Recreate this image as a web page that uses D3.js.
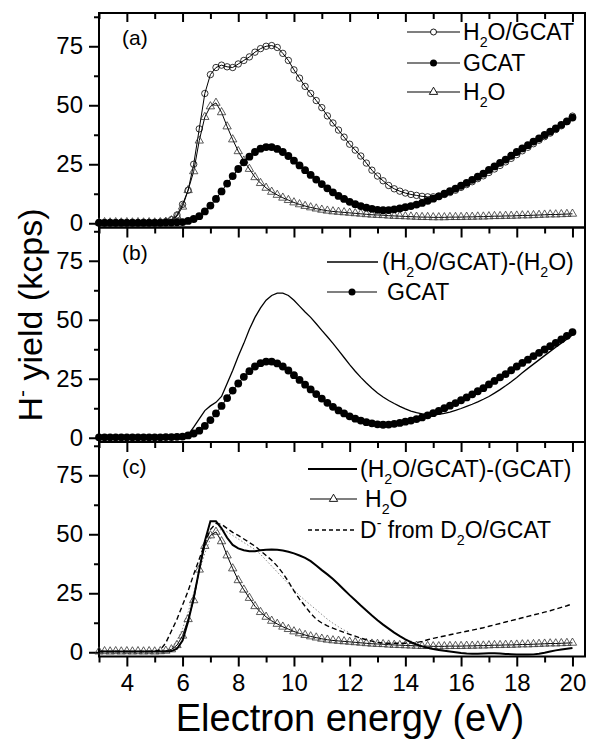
<!DOCTYPE html>
<html>
<head>
<meta charset="utf-8">
<script src="https://cdn.jsdelivr.net/npm/d3@7/dist/d3.min.js"></script>
<style>
  body { margin: 0; background: #fff; }
  svg { display: block; }
  text { font-family: "Liberation Sans", Arial, sans-serif; fill: #000; }
</style>
</head>
<body>
<svg width="590" height="741"></svg>
<script>
// electron energy grid (eV)
const energy = [
  3.0, 3.2, 3.4, 3.6, 3.8, 4.0, 4.2, 4.4, 4.6, 4.8,
  5.0, 5.2, 5.4, 5.6, 5.8, 6.0, 6.2, 6.4, 6.6, 6.8,
  7.0, 7.2, 7.4, 7.6, 7.8, 8.0, 8.2, 8.4, 8.6, 8.8,
  9.0, 9.2, 9.4, 9.6, 9.8, 10.0, 10.2, 10.4, 10.6, 10.8,
  11.0, 11.2, 11.4, 11.6, 11.8, 12.0, 12.2, 12.4, 12.6, 12.8,
  13.0, 13.2, 13.4, 13.6, 13.8, 14.0, 14.2, 14.4, 14.6, 14.8,
  15.0, 15.2, 15.4, 15.6, 15.8, 16.0, 16.2, 16.4, 16.6, 16.8,
  17.0, 17.2, 17.4, 17.6, 17.8, 18.0, 18.2, 18.4, 18.6, 18.8,
  19.0, 19.2, 19.4, 19.6, 19.8, 20.0
];

// H- yield from H2O/GCAT (kcps)
const mixYield = [
  0.4, 0.3, 0.4, 0.3, 0.4, 0.3, 0.4, 0.3, 0.4, 0.4,
  0.4, 0.5, 0.7, 1.5, 3.5, 8, 14, 25, 40, 55,
  63, 66, 67, 66.3, 66, 67.5, 69, 70.5, 72.5, 74,
  75, 75.3, 74.5, 72, 69, 65, 61.5, 58, 55, 52,
  49, 45.5, 42.5, 39.5, 36.5, 33.5, 31, 28.5, 25.5, 22.5,
  20, 18, 16, 14.6, 13.6, 12.8, 12.2, 11.8, 11.4, 11.2,
  11.2, 11.5, 12.2, 13.0, 14.0, 15.2, 16.4, 17.6, 18.9, 20.1,
  21.5, 23.0, 24.5, 26.0, 27.5, 29.1, 30.7, 32.2, 33.7, 35.2,
  36.7, 38.2, 39.7, 41.3, 43.1, 45.4
];

// H- yield from GCAT
const gcatYield = [
  0.2, 0.2, 0.2, 0.2, 0.2, 0.2, 0.2, 0.2, 0.2, 0.2,
  0.2, 0.2, 0.3, 0.3, 0.4, 0.5, 1.0, 1.8, 3.0, 5.0,
  7.5, 10.3, 13.5, 16.8, 20.0, 23.0, 25.8, 28.2, 30.2, 31.6,
  32.3, 32.3, 31.5, 30.2, 28.5, 26.5, 24.5, 22.5, 20.5, 18.5,
  16.6, 14.8, 13.1, 11.6, 10.3, 9.1, 8.1, 7.3, 6.6, 6.1,
  5.7, 5.5, 5.6, 5.9, 6.3, 6.8, 7.3, 7.9, 8.6, 9.5,
  10.4, 11.4, 12.5, 13.6, 14.7, 15.9, 17.1, 18.4, 19.7, 21.0,
  22.6, 24.1, 25.6, 27.0, 28.6, 30.2, 31.7, 33.1, 34.6, 36.0,
  37.4, 38.8, 40.2, 41.7, 43.2, 44.8
];

// H- yield from H2O
const waterYield = [
  0.3, 0.4, 0.3, 0.4, 0.3, 0.4, 0.3, 0.4, 0.3, 0.4,
  0.3, 0.4, 0.6, 1.2, 3, 7, 14, 22, 35, 45,
  49.5, 51, 47, 41, 35.5, 30.5, 26.5, 23, 19.5, 17,
  15, 13.3, 12, 10.8, 9.8, 8.8, 8, 7.3, 6.7, 6.2,
  5.7, 5.3, 5.0, 4.8, 4.6, 4.4, 4.2, 4.0, 3.8, 3.6,
  3.5, 3.4, 3.2, 3.1, 3.0, 2.9, 2.8, 2.7, 2.6, 2.6,
  2.5, 2.5, 2.5, 2.6, 2.6, 2.6, 2.7, 2.7, 2.8, 2.8,
  2.9, 3.0, 3.0, 3.1, 3.1, 3.2, 3.3, 3.3, 3.4, 3.5,
  3.6, 3.7, 3.7, 3.8, 3.9, 4.0
];

// (H2O/GCAT)-(H2O)
const mixMinusWater = [
  0.1, 0.1, 0.1, 0.1, 0.1, 0.1, 0.1, 0.1, 0.1, 0.1,
  0.1, 0.1, 0.1, 0.1, 0.2, 0.3, 1.2, 4.5, 8, 11.5,
  13.5, 15, 17.5, 23, 28.5, 34.5, 40, 46, 51, 55,
  58.3, 60.3, 61.3, 61.3, 60.3, 58.3, 55.8, 53.3, 51, 48.3,
  45.5, 42.8, 40, 37, 34, 31, 28.2, 25.6, 23.2, 21,
  19, 17.3, 15.8, 14.5, 13.3, 12.2, 11.3, 10.6, 10.1, 9.8,
  9.7, 9.9, 10.3, 10.9, 11.6, 12.4, 13.3, 14.2, 15.2, 16.3,
  17.5, 18.9, 20.4, 22, 23.7, 25.5, 27.5, 29.4, 31.2, 33,
  34.8, 36.6, 38.4, 40.1, 41.8, 43.6
];

// (H2O/GCAT)-(GCAT)
const mixMinusGcat = [
  0.3, 0.3, 0.3, 0.3, 0.3, 0.3, 0.3, 0.3, 0.3, 0.3,
  0.3, 0.3, 0.3, 0.5, 1.5, 5, 13, 23, 35, 47,
  55.5, 55.5, 52.5, 48.5, 45.5, 44, 43.2, 42.8, 42.8, 43.2,
  43.4, 43.5, 43.4, 43.1, 42.6, 41.9, 41, 40, 38.6, 36.8,
  34.8, 33, 31, 28.8, 26.5, 24.2, 22, 19.8, 17.7, 15.6,
  13.6, 11.7, 10, 8.3, 6.8, 5.5, 4.3, 3.3, 2.5, 1.9,
  1.4, 1, 0.6, 0.3, 0, -0.3, -0.5, -0.6, -0.6, -0.5,
  -0.4, -0.4, -0.5, -0.7, -0.8, -0.9, -1, -1, -0.9, -0.6,
  -0.2, 0.3, 0.8, 1.2, 1.5, 1.8
];

// D- from D2O/GCAT
const deutYield = [
  0.3, 0.3, 0.3, 0.3, 0.3, 0.3, 0.3, 0.3, 0.3, 0.3,
  0.4, 1, 4, 9, 14, 20, 26, 33, 39.5, 46,
  52, 54.6, 54.2, 52.5, 50.8, 49.5, 48, 46.5, 45, 43,
  41, 39, 36.5, 33.5, 30, 26, 22.5, 19.5, 16.5, 14,
  12.4, 11.2, 10.2, 9.3, 8.4, 7.6, 6.8, 6.0, 5.3, 4.7,
  4.2, 3.9, 3.8, 3.8, 3.8, 3.8, 3.9, 4.1, 4.6, 5.3,
  5.9, 6.4, 6.9, 7.4, 7.9, 8.4, 8.9, 9.4, 9.9, 10.4,
  11, 11.6, 12.2, 12.8, 13.4, 14, 14.6, 15.2, 15.8, 16.4,
  17, 17.6, 18.3, 19, 19.7, 20.5
];

// thin grey dotted guide curve in panel (c)
const guideYield = [
  null, null, null, null, null, null, null, null, null, null,
  null, null, 0.5, 2, 5, 10, 17, 25, 34, 42,
  48, 51.5, 52, 51, 49.5, 48, 46.5, 45, 43.5, 41.5,
  39, 36.5, 34, 31.5, 29, 26.5, 24, 22, 20, 18,
  16, 14, 12.3, 10.8, 9.4, 8.2, null, null, null, null,
  null, null, null, null, null, null, null, null, null, null,
  null, null, null, null, null, null, null, null, null, null,
  null, null, null, null, null, null, null, null, null, null,
  null, null, null, null, null, null
];

const xMajorTicks = [4, 6, 8, 10, 12, 14, 16, 18, 20];
const xMinorTicks = [3, 5, 7, 9, 11, 13, 15, 17, 19];
const yMajorTicks = [0, 25, 50, 75];
const yMinorTicks = [12.5, 37.5, 62.5, 87.5];

const svg = d3.select("svg");
const left = 99, right = 585;
const panelH = 214.5;
const panelTops = [13, 227.5, 442];

const x = d3.scaleLinear().domain([3, 20.45]).range([left, right]);

function makeY(top) {
  return d3.scaleLinear().domain([-1.8, 89.1]).range([top + panelH, top]);
}

function drawLine(g, y, values, width, dash, color) {
  const line = d3.line()
    .defined(d => d != null)
    .x((d, i) => x(energy[i]))
    .y(d => y(d));
  g.append("path")
    .attr("d", line(values))
    .attr("fill", "none")
    .attr("stroke", color || "#000")
    .attr("stroke-width", width)
    .attr("stroke-dasharray", dash || null);
}

function drawMarkers(g, y, values, kind) {
  const pts = values.map((v, i) => [energy[i], v]).filter(d => d[1] != null);
  if (kind === "open") {
    g.selectAll(null).data(pts).enter().append("circle")
      .attr("cx", d => x(d[0])).attr("cy", d => y(d[1])).attr("r", 3.2)
      .attr("fill", "none").attr("stroke", "#000").attr("stroke-width", 0.8);
  } else if (kind === "filled") {
    g.selectAll(null).data(pts).enter().append("circle")
      .attr("cx", d => x(d[0])).attr("cy", d => y(d[1])).attr("r", 3.9)
      .attr("fill", "#000");
  } else {
    g.selectAll(null).data(pts).enter().append("path")
      .attr("d", d3.symbol(d3.symbolTriangle, 30))
      .attr("transform", d => `translate(${x(d[0])},${y(d[1])})`)
      .attr("fill", "none").attr("stroke", "#333").attr("stroke-width", 0.8);
  }
}

function legendMarker(g, x1, x2, yy, kind, lineW, dash) {
  g.append("line").attr("x1", x1).attr("x2", x2).attr("y1", yy).attr("y2", yy)
    .attr("stroke", "#000").attr("stroke-width", lineW || 1.2)
    .attr("stroke-dasharray", dash || null);
  const cx = (x1 + x2) / 2;
  if (kind === "open") {
    g.append("circle").attr("cx", cx).attr("cy", yy).attr("r", 3)
      .attr("fill", "#fff").attr("stroke", "#000").attr("stroke-width", 0.9);
  } else if (kind === "filled") {
    g.append("circle").attr("cx", cx).attr("cy", yy).attr("r", 3.5).attr("fill", "#000");
  } else if (kind === "tri") {
    g.append("path").attr("d", d3.symbol(d3.symbolTriangle, 30))
      .attr("transform", `translate(${cx},${yy})`)
      .attr("fill", "#fff").attr("stroke", "#000").attr("stroke-width", 0.9);
  }
}

// text with chemical subscripts: parts = [[str, "sub"|"sup"|null], ...]
function richText(g, tx, ty, parts, size) {
  const t = g.append("text").attr("x", tx).attr("y", ty).attr("font-size", size);
  let shift = 0;
  parts.forEach(([s, mode]) => {
    const sp = t.append("tspan").text(s);
    let target = 0;
    if (mode === "sub") { sp.attr("font-size", size * 0.62); target = size * 0.3; }
    if (mode === "sup") { sp.attr("font-size", size * 0.62); target = -size * 0.42; }
    sp.attr("dy", target - shift);
    shift = target;
  });
  return t;
}

function drawPanel(idx, label) {
  const top = panelTops[idx];
  const y = makeY(top);
  const g = svg.append("g");

  // ticks
  const bottom = top + panelH;
  const xMaj = d3.axisBottom(x).tickValues(xMajorTicks).tickSize(10).tickPadding(7)
    .tickFormat(idx === 2 ? d3.format("d") : "");
  const xMin = d3.axisBottom(x).tickValues(xMinorTicks).tickSize(6).tickFormat("");
  [xMaj, xMin].forEach(ax => {
    const a = g.append("g").attr("transform", `translate(0,${bottom})`).call(ax);
    a.select(".domain").remove();
    a.selectAll("line").attr("stroke-width", 2);
    a.selectAll("text").attr("font-size", 24).attr("font-family", "Liberation Sans, Arial, sans-serif");
  });
  if (idx === 0) {
    [[xMajorTicks, 9], [xMinorTicks, 6]].forEach(([vals, s]) => {
      const a = g.append("g").attr("transform", `translate(0,${top})`)
        .call(d3.axisBottom(x).tickValues(vals).tickSize(s).tickFormat(""));
      a.select(".domain").remove();
      a.selectAll("line").attr("stroke-width", 2);
    });
  }
  const yMaj = d3.axisLeft(y).tickValues(yMajorTicks).tickSize(10).tickPadding(6);
  const yMin = d3.axisLeft(y).tickValues(yMinorTicks).tickSize(5).tickFormat("");
  [yMaj, yMin].forEach(ax => {
    const a = g.append("g").attr("transform", `translate(${left},0)`).call(ax);
    a.select(".domain").remove();
    a.selectAll("line").attr("stroke-width", 2);
    a.selectAll("text").attr("font-size", 24).attr("font-family", "Liberation Sans, Arial, sans-serif");
  });

  // frame
  g.append("rect").attr("x", left).attr("y", top).attr("width", right - left).attr("height", panelH)
    .attr("fill", "none").attr("stroke", "#000").attr("stroke-width", 2);

  g.append("text").attr("x", 122).attr("y", top + 32).attr("font-size", 21).text(label);
  return { g, y };
}

// ---- panel (a)
{
  const { g, y } = drawPanel(0, "(a)");
  drawLine(g, y, mixYield, 1);
  drawMarkers(g, y, mixYield, "open");
  drawLine(g, y, waterYield, 1);
  drawMarkers(g, y, waterYield, "tri");
  drawLine(g, y, gcatYield, 1);
  drawMarkers(g, y, gcatYield, "filled");

  legendMarker(g, 407, 460, 32, "open");
  richText(g, 463, 40, [["H"], ["2", "sub"], ["O/GCAT"]], 23);
  legendMarker(g, 407, 460, 63, "filled");
  richText(g, 463, 71, [["GCAT"]], 23);
  legendMarker(g, 407, 460, 92, "tri");
  richText(g, 463, 100, [["H"], ["2", "sub"], ["O"]], 23);
}

// ---- panel (b)
{
  const { g, y } = drawPanel(1, "(b)");
  drawLine(g, y, mixMinusWater, 1.3);
  drawLine(g, y, gcatYield, 1);
  drawMarkers(g, y, gcatYield, "filled");

  legendMarker(g, 327, 378, 262, null, 1.3);
  richText(g, 382, 270, [["(H"], ["2", "sub"], ["O/GCAT)-(H"], ["2", "sub"], ["O)"]], 23);
  legendMarker(g, 327, 377, 292, "filled");
  richText(g, 387, 300, [["GCAT"]], 23);
}

// ---- panel (c)
{
  const { g, y } = drawPanel(2, "(c)");
  drawLine(g, y, guideYield, 1, "1.5,2", "#888");
  drawLine(g, y, waterYield, 1);
  drawMarkers(g, y, waterYield, "tri");
  drawLine(g, y, deutYield, 1.4, "5,3");
  drawLine(g, y, mixMinusGcat, 2);

  legendMarker(g, 308, 357, 469, null, 2);
  richText(g, 360, 477, [["(H"], ["2", "sub"], ["O/GCAT)-(GCAT)"]], 23);
  legendMarker(g, 310, 357, 499, "tri");
  richText(g, 365, 507, [["H"], ["2", "sub"], ["O"]], 23);
  legendMarker(g, 308, 357, 530, null, 1.4, "4,3");
  richText(g, 360, 538, [["D"], ["-", "sup"], [" from D"], ["2", "sub"], ["O/GCAT"]], 23);
}

// axis titles
svg.append("text").attr("x", 350).attr("y", 731).attr("text-anchor", "middle")
  .attr("font-size", 38).text("Electron energy (eV)");

const yt = svg.append("text").attr("transform", "translate(42,315) rotate(-90)")
  .attr("text-anchor", "middle").attr("font-size", 34);
yt.append("tspan").text("H");
yt.append("tspan").text("-").attr("font-size", 21).attr("dy", -13);
yt.append("tspan").text(" yield (kcps)").attr("dy", 13);
</script>
</body>
</html>
